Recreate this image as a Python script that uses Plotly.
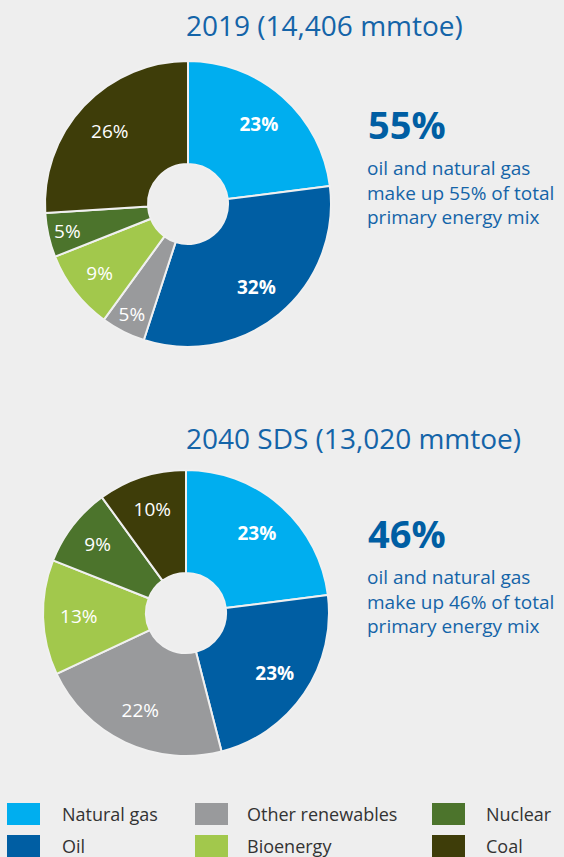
import plotly.graph_objects as go

W, H = 564, 857

CATEGORIES = ["Natural gas", "Oil", "Other renewables", "Bioenergy", "Nuclear", "Coal"]
COLORS = ["#00AEEF", "#005EA3", "#999A9C", "#A2C84C", "#4C742C", "#3E3D09"]
SHARE_2019 = [23, 32, 5, 9, 5, 26]
SHARE_2040 = [23, 23, 22, 13, 9, 10]
BOLD = ["Natural gas", "Oil"]

TITLES = ["2019 (14,406 mmtoe)", "2040 SDS (13,020 mmtoe)"]
HEADLINES = ["55%", "46%"]
NOTES = [
    "oil and natural gas<br>make up 55% of total<br>primary energy mix",
    "oil and natural gas<br>make up 46% of total<br>primary energy mix",
]

BG = "#EEEEEE"
BLUE_TEXT = "#1464A8"
FONT = "Open Sans"


def px(x):
    return x / W


def py(y):
    return 1 - y / H


def labels_for(values):
    out = []
    for cat, v in zip(CATEGORIES, values):
        t = f"{v}%"
        out.append(f"<b>{t}</b>" if cat in BOLD else t)
    return out


fig = go.Figure()

# pie centres / radius in pixels
pies = [(SHARE_2019, 188, 204), (SHARE_2040, 186, 613)]
R = 143

for values, cx, cy in pies:
    dom = dict(x=[px(cx - R), px(cx + R)], y=[py(cy + R), py(cy - R)])
    # coloured donut
    fig.add_trace(go.Pie(
        labels=CATEGORIES, values=values, textinfo="none",
        marker=dict(colors=COLORS, line=dict(color="#F0F0F0", width=2)),
        hole=0.28, sort=False, direction="clockwise", rotation=0,
        showlegend=False, hoverinfo="label+percent", domain=dom,
    ))
    # transparent twin with a wider hole: puts the % labels further out, as in the original
    fig.add_trace(go.Pie(
        labels=CATEGORIES, values=values, text=labels_for(values),
        textinfo="text", textposition="inside", insidetextorientation="horizontal",
        textfont=dict(family=FONT, size=19, color="white"),
        marker=dict(colors=["rgba(0,0,0,0)"] * len(values), line=dict(width=0)),
        hole=0.5, sort=False, direction="clockwise", rotation=0,
        showlegend=False, hoverinfo="skip", domain=dom,
    ))

ann = []
title_y = [25, 438]
head_y = [124, 533]
note_y = [192, 601]
for i in range(2):
    ann.append(dict(text=TITLES[i], x=px(184), y=py(title_y[i]), xanchor="left", yanchor="middle",
                    font=dict(family=FONT, size=28, color=BLUE_TEXT), showarrow=False))
    ann.append(dict(text=f"<b>{HEADLINES[i]}</b>", x=px(366), y=py(head_y[i]), xanchor="left",
                    yanchor="middle", font=dict(family=FONT, size=38, color="#005EA3"), showarrow=False))
    ann.append(dict(text=NOTES[i], x=px(365), y=py(note_y[i]), xanchor="left", yanchor="middle",
                    align="left", font=dict(family=FONT, size=19, color=BLUE_TEXT), showarrow=False))

# custom legend: 3 columns x 2 rows
shapes = []
col_sq = [7, 195, 432]
col_txt = [60, 245, 484]
row_y = [814, 846]
for k, (cat, col) in enumerate(zip(CATEGORIES, COLORS)):
    c, r = divmod(k, 2)
    shapes.append(dict(type="rect", xref="paper", yref="paper",
                       x0=px(col_sq[c]), x1=px(col_sq[c] + 33),
                       y0=py(row_y[r] + 11), y1=py(row_y[r] - 11),
                       fillcolor=col, line=dict(width=0)))
    ann.append(dict(text=cat, x=px(col_txt[c]), y=py(row_y[r]), xanchor="left", yanchor="middle",
                    font=dict(family=FONT, size=18, color="#333333"), showarrow=False))

fig.update_layout(
    width=W, height=H,
    margin=dict(l=0, r=0, t=0, b=0),
    paper_bgcolor=BG, plot_bgcolor=BG,
    annotations=ann, shapes=shapes,
)

# page body has a default 8px margin; drop it so the 564x857 figure fits the window
fig.write_html("out.html", config={"displayModeBar": False},
               post_script="document.body.style.margin='0';")
